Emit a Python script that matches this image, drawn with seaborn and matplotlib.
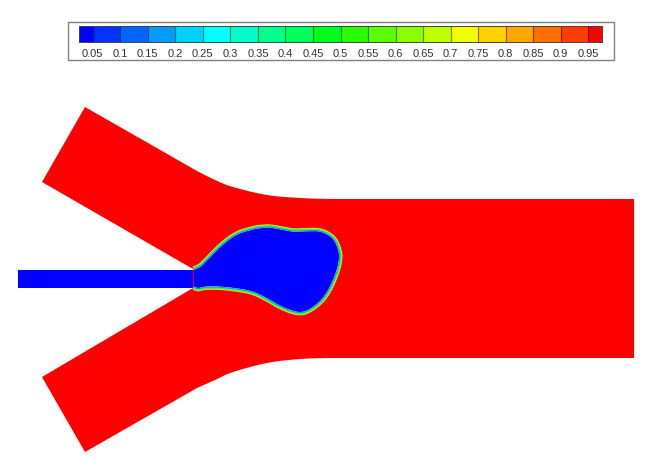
import matplotlib
matplotlib.use("Agg")
import matplotlib.pyplot as plt
from matplotlib.colors import ListedColormap
from matplotlib.patches import Rectangle
import numpy as np
import seaborn as sns

# colour levels of the legend, one per 0.05 band
BAND_COLORS = [
    "#0000ff", "#0032ff", "#0064ff", "#009bff", "#00d2ff",
    "#00ffff", "#00ffc8", "#00ff8c", "#00ff5a", "#00ff1e",
    "#28ff00", "#5aff00", "#8cff00", "#beff00", "#f0ff00",
    "#ffd200", "#ffa500", "#ff6e00", "#ff3c00", "#ff0000",
]
TICK_LABELS = ["0.05", "0.1", "0.15", "0.2", "0.25", "0.3", "0.35", "0.4", "0.45", "0.5",
               "0.55", "0.6", "0.65", "0.7", "0.75", "0.8", "0.85", "0.9", "0.95"]

# outer wall curves of the duct, in image pixels
TOP_WALL_X = [197, 215, 233, 267, 300, 330]
TOP_WALL_Y = [171, 180, 187, 195, 198, 199]
BOTTOM_WALL_X = [330, 300, 267, 233, 215, 197]
BOTTOM_WALL_Y = [358, 359, 363, 372, 380, 388]

# inlet channel
INLET_X = [18, 193, 193, 18]
INLET_Y = [270, 270, 288, 288]

# interface between the two fluids, from the upper to the lower lip
FRONT_X = [193.3, 200, 208.3, 218.3, 228.3, 238.3, 248.3, 256.7, 268.3, 278.3, 293.3, 305, 318.3, 328.3,
           335.7, 340.3, 340.3, 336.7, 330, 321.7, 310, 300, 288.3, 276.7, 265, 251.7, 235, 218.3, 205,
           198.3, 193.3]
FRONT_Y = [268.3, 265, 256.7, 246.7, 238.3, 232.3, 229, 227, 226, 227.3, 230, 229.7, 229.7, 233.3,
           240, 251.7, 261.7, 275, 290, 301.7, 310.7, 313.7, 311, 305.7, 299, 293, 289.8, 288.2, 288.3,
           289.7, 288]


def smooth(x, y, steps=8):
    # Catmull-Rom through the read-off points, only to round the outline
    pts = np.column_stack([x, y]).astype(float)
    pts = np.vstack([pts[0], pts, pts[-1]])
    out = []
    for i in range(1, len(pts) - 2):
        p0, p1, p2, p3 = pts[i - 1], pts[i], pts[i + 1], pts[i + 2]
        for t in np.linspace(0, 1, steps, endpoint=False):
            out.append(0.5 * (2 * p1 + (p2 - p0) * t + (2 * p0 - 5 * p1 + 4 * p2 - p3) * t ** 2
                              + (3 * p1 - p0 - 3 * p2 + p3) * t ** 3))
    out.append(pts[-2])
    out = np.array(out)
    return out[:, 0], out[:, 1]


def inset(x, y, dist):
    # move the curve towards the inside of the drop
    tx, ty = np.gradient(x), np.gradient(y)
    norm = np.hypot(tx, ty)
    norm[norm == 0] = 1
    return x - ty / norm * dist, y + tx / norm * dist


sns.set_style("white")
plt.rcParams["font.family"] = ["Liberation Sans", "DejaVu Sans"]

WIDTH, HEIGHT = 665, 468
PX = 72 / 100
fig = plt.figure(figsize=(WIDTH / 100, HEIGHT / 100), dpi=100, facecolor="white")
ax = fig.add_axes([0, 0, 1, 1])
ax.set_xlim(0, WIDTH)
ax.set_ylim(HEIGHT, 0)
ax.axis("off")

top_x, top_y = smooth(TOP_WALL_X, TOP_WALL_Y)
bottom_x, bottom_y = smooth(BOTTOM_WALL_X, BOTTOM_WALL_Y)
duct_x = [85, *top_x, 634, 634, *bottom_x, 85, 42, 193, 193, 42]
duct_y = [107, *top_y, 199, 358, *bottom_y, 452, 377, 288, 269, 182]
ax.fill(duct_x, duct_y, color="#ff0000", lw=0)

front_x, front_y = smooth(FRONT_X, FRONT_Y)
for color, width in [("#ff9000", 3.6), ("#dcff00", 2.8), ("#30ff40", 1.8)]:
    ax.plot(front_x, front_y, color=color, lw=width * PX, solid_capstyle="butt")
cyan_x, cyan_y = inset(front_x, front_y, 1.0)
ax.plot(cyan_x, cyan_y, color="#00a0ff", lw=1.2 * PX, solid_capstyle="butt")
blue_x, blue_y = inset(front_x, front_y, 1.3)
ax.fill(blue_x, blue_y, color="#0000ff", lw=0)
ax.fill(INLET_X, INLET_Y, color="#0000ff", lw=0)

# legend frame
ax.add_patch(Rectangle((67.5, 22), 546.5, 38, facecolor="white", edgecolor="#808080", lw=1.0))

# legend strip: half-band cells so the end bands come out clipped
band_index = [(i + 1) // 2 for i in range(38)]
strip = np.array([band_index])
cax = fig.add_axes([79 / WIDTH, 1 - 42 / HEIGHT, 523 / WIDTH, 16.5 / HEIGHT])
sns.heatmap(strip, ax=cax, cmap=ListedColormap(BAND_COLORS), vmin=-0.5, vmax=19.5, cbar=False,
            xticklabels=False, yticklabels=False, linewidths=0, rasterized=True)
tick_pos = np.arange(1, 38, 2)
cax.vlines(tick_pos, 0, 1, color="black", alpha=0.45, lw=0.9)
cax.set_xticks(tick_pos)
cax.set_xticklabels(TICK_LABELS, rotation=0, fontsize=8, color="#333333")
cax.tick_params(axis="x", length=0, pad=5)
for spine in cax.spines.values():
    spine.set_visible(True)
    spine.set_color("#444444")
    spine.set_linewidth(0.7)

fig.savefig("out.png", dpi=100, facecolor="white")
plt.close(fig)
